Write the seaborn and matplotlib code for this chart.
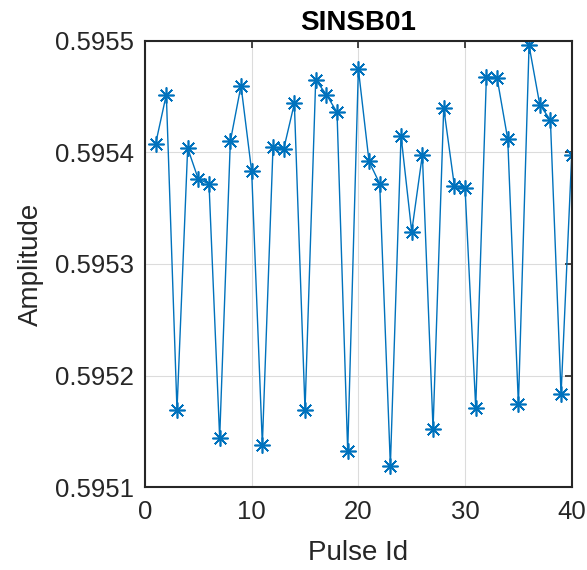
import matplotlib
matplotlib.use("Agg")
import matplotlib.pyplot as plt
import seaborn as sns
import pandas as pd

pulse_id = list(range(1, 41))
amplitude = [
    0.595408, 0.595452, 0.595169, 0.595404, 0.595376, 0.595372, 0.595144, 0.595410,
    0.595460, 0.595383, 0.595138, 0.595405, 0.595403, 0.595444, 0.595169, 0.595465,
    0.595452, 0.595436, 0.595132, 0.595475, 0.595392, 0.595372, 0.595119, 0.595415,
    0.595329, 0.595398, 0.595152, 0.595440, 0.595370, 0.595368, 0.595171, 0.595468,
    0.595467, 0.595412, 0.595174, 0.595496, 0.595443, 0.595429, 0.595183, 0.595398,
]
x_ticks = [0, 10, 20, 30, 40]
y_ticks = [0.5951, 0.5952, 0.5953, 0.5954, 0.5955]
y_labels = ["0.5951", "0.5952", "0.5953", "0.5954", "0.5955"]

df = pd.DataFrame({"Pulse Id": pulse_id, "Amplitude": amplitude})

sns.set_style("white")
plt.rcParams["font.family"] = ["Liberation Sans", "DejaVu Sans"]

fig = plt.figure(figsize=(5.87, 5.70), dpi=100)
ax = fig.add_axes([0.247, 0.1456, 0.727, 0.7825])

sns.lineplot(data=df, x="Pulse Id", y="Amplitude", ax=ax, color="#0072BD",
             marker=(8, 2, 0), markersize=11.5, markeredgewidth=1.2,
             markeredgecolor="#0072BD", linewidth=1.0)

ax.set_xlim(0, 40)
ax.set_ylim(0.5951, 0.5955)
ax.set_xticks(x_ticks)
ax.set_yticks(y_ticks)
ax.set_yticklabels(y_labels)
ax.grid(True, color="#dcdcdc", linewidth=0.8)
ax.set_axisbelow(True)
ax.tick_params(direction="in", length=5, width=1.2, labelsize=18.5, colors="#262626",
               top=True, right=True)
ax.tick_params(axis="x", pad=9)
ax.tick_params(axis="y", pad=8)
for s in ax.spines.values():
    s.set_linewidth(1.5)
    s.set_color("#262626")
    s.set_visible(True)

ax.set_xlabel("Pulse Id", fontsize=20, color="#262626", labelpad=12)
ax.set_ylabel("Amplitude", fontsize=20, color="#262626", labelpad=8)
ax.set_title("SINSB01", fontsize=20, fontweight="bold", color="black", pad=8)

fig.savefig("out.png", dpi=100)
